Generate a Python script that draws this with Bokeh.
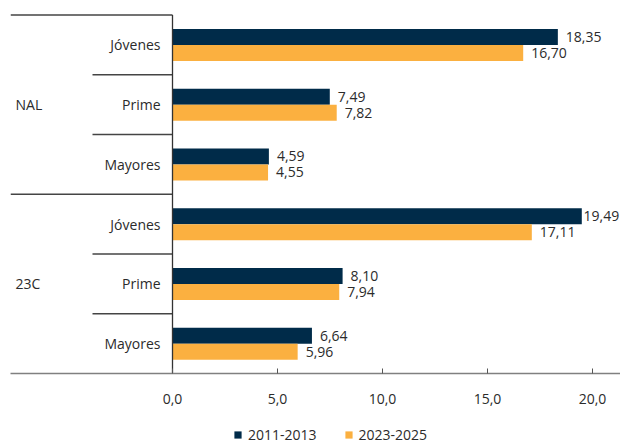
from bokeh.plotting import figure
from bokeh.layouts import column
from bokeh.models import Range1d, FixedTicker, Legend, LegendItem, ColumnDataSource
from bokeh.core.properties import value
from bokeh.embed import file_html
from bokeh.resources import INLINE

groups = ["NAL", "23C"]
ages = ["Jóvenes", "Prime", "Mayores"]
series_names = ["2011-2013", "2023-2025"]
s2011 = [18.35, 7.49, 4.59, 19.49, 8.10, 6.64]
s2023 = [16.70, 7.82, 4.55, 17.11, 7.94, 5.96]
ticks = [0, 5, 10, 15, 20]
tick_labels = ["0,0", "5,0", "10,0", "15,0", "20,0"]

NAVY = "#002b49"
ORANGE = "#fbb040"
TXT = "#2b2b2b"
FONT = "Open Sans"

# layout constants (pixels)
PX_PER_UNIT = 21.0
ROW_PX = 59.75
LEFT_PX = 10
ZERO_PX = 172
W = 620
MAIN_H = 415
LEG_H = 30
FRAME_H = 373
SUB_LINE_PX = 92
LABEL_W_PX = 35

n_rows = len(groups) * len(ages)
x0 = -(ZERO_PX - LEFT_PX) / PX_PER_UNIT
x1 = (W - ZERO_PX) / PX_PER_UNIT
ytop = FRAME_H / ROW_PX
bar_h = 16 / ROW_PX

row_y = [n_rows - k - 0.5 for k in range(n_rows)]
row_age = [ages[k % len(ages)] for k in range(n_rows)]

p = figure(width=W, height=MAIN_H, x_range=Range1d(x0, x1), y_range=Range1d(0, ytop),
           output_backend="svg", toolbar_location=None, y_axis_location=None,
           min_border_left=LEFT_PX, min_border_right=0, min_border_top=0,
           min_border_bottom=MAIN_H - FRAME_H)
p.outline_line_color = None
p.xgrid.visible = False
p.ygrid.visible = False


def fmt(v):
    return f"{v:.2f}".replace(".", ",")


def offs(vals):
    return [min(8, (x1 - v) * PX_PER_UNIT - LABEL_W_PX - 2) for v in vals]


src = ColumnDataSource(dict(
    y1=[y + bar_h / 2 for y in row_y],
    y2=[y - bar_h / 2 for y in row_y],
    v1=s2011, v2=s2023,
    l1=[fmt(v) for v in s2011],
    l2=[fmt(v) for v in s2023],
    o1=offs(s2011), o2=offs(s2023),
))

r1 = p.hbar(y="y1", right="v1", left=0, height=bar_h, source=src, color=NAVY, line_color=None)
r2 = p.hbar(y="y2", right="v2", left=0, height=bar_h, source=src, color=ORANGE, line_color=None)

for col_y, col_v, col_l, col_o in (("y1", "v1", "l1", "o1"), ("y2", "v2", "l2", "o2")):
    p.text(x=col_v, y=col_y, text=col_l, source=src, x_offset=col_o,
           text_font=value(FONT), text_font_size="14px", text_color=TXT,
           text_baseline="middle", text_align="left")

# category labels
p.text(x=[0] * n_rows, y=row_y, text=row_age, x_offset=-12,
       text_font=value(FONT), text_font_size="14px", text_color=TXT,
       text_baseline="middle", text_align="right")
grp_y = [n_rows - (g + 0.5) * len(ages) for g in range(len(groups))]
p.text(x=[x0] * len(groups), y=grp_y, text=groups, x_offset=5,
       text_font=value(FONT), text_font_size="14px", text_color=TXT,
       text_baseline="middle", text_align="left")

# separators
xs = (SUB_LINE_PX - ZERO_PX) / PX_PER_UNIT
full_y = [n_rows - g * len(ages) for g in range(len(groups))]
p.segment(x0=[x0] * len(full_y), x1=[0] * len(full_y), y0=full_y, y1=full_y,
          line_color="#444444", line_width=1.3)
sub_y = [n_rows - g * len(ages) - a for g in range(len(groups)) for a in range(1, len(ages))]
p.segment(x0=[xs] * len(sub_y), x1=[0] * len(sub_y), y0=sub_y, y1=sub_y,
          line_color="#444444", line_width=1.3)
p.segment(x0=[0], x1=[0], y0=[0], y1=[n_rows], line_color="#333333", line_width=1.3)

ax = p.xaxis[0]
ax.ticker = FixedTicker(ticks=ticks)
ax.major_label_overrides = {t: l for t, l in zip(ticks, tick_labels)}
ax.axis_line_color = "#808080"
ax.axis_line_width = 1.5
ax.major_tick_line_color = "#555555"
ax.major_tick_in = 5
ax.major_tick_out = 0
ax.minor_tick_line_color = None
ax.major_label_standoff = 20
ax.major_label_text_font = FONT
ax.major_label_text_font_size = "14px"
ax.major_label_text_color = TXT

# legend strip (swatch renderers sit outside the visible range)
q = figure(width=W, height=LEG_H, x_range=Range1d(0, W), y_range=Range1d(0, LEG_H),
           output_backend="svg", toolbar_location=None,
           x_axis_location=None, y_axis_location=None, min_border=0)
q.outline_line_color = None
q.xgrid.visible = False
q.ygrid.visible = False
d1 = q.hbar(y=[-100], left=[-100], right=[-90], height=1, color=NAVY, line_color=None)
d2 = q.hbar(y=[-100], left=[-100], right=[-90], height=1, color=ORANGE, line_color=None)

legend = Legend(items=[LegendItem(label=series_names[0], renderers=[d1]),
                       LegendItem(label=series_names[1], renderers=[d2])],
                orientation="horizontal", location=(223, 1),
                padding=0, margin=0, spacing=27, glyph_width=9, glyph_height=9,
                label_standoff=6, label_text_font=FONT, label_text_font_size="14px",
                label_text_color=TXT, label_height=14,
                border_line_color=None, background_fill_alpha=0)
q.add_layout(legend, "center")

open("out.html", "w").write(file_html(column(p, q, spacing=0), INLINE))
